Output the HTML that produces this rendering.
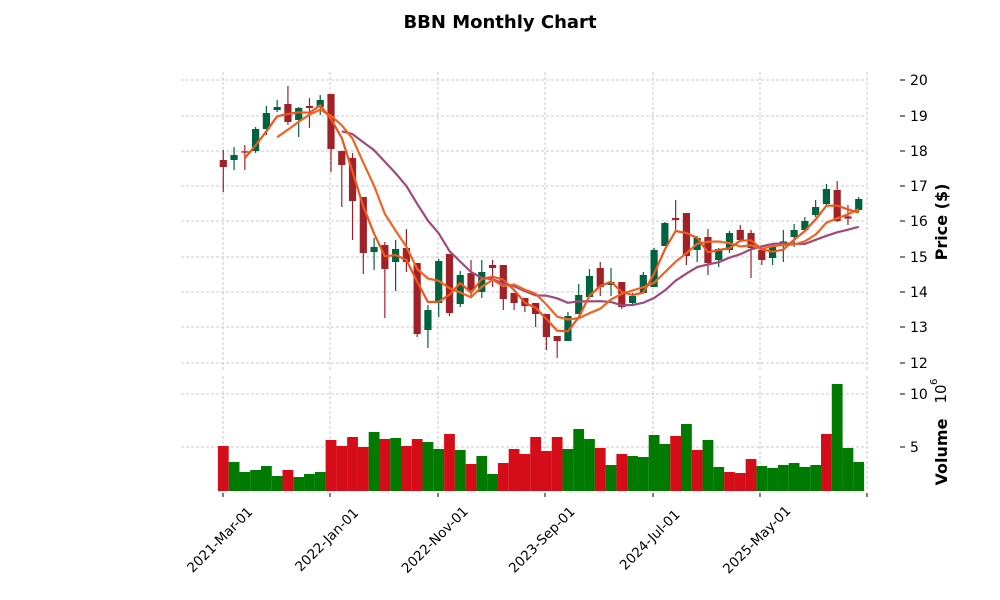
<!DOCTYPE html>
<html><head><meta charset="utf-8"><style>
html,body{margin:0;padding:0;background:#fff}
svg{display:block;font-family:"DejaVu Sans","Liberation Sans",sans-serif}
</style></head><body>
<svg id="s" width="1000" height="600" xmlns="http://www.w3.org/2000/svg">
<text x="500" y="28" text-anchor="middle" font-size="18" font-weight="bold">BBN Monthly Chart</text>
<g id="g"></g>
</svg>
<script>
var d=[[160,167,150,192],[160,155,147,170],[152,152,145,170],[151,129,127,153],[129,113,106,135],[110,107,100,112],[104,122,86,125],[120,108,107,137],[106,108,98,128],[107,100,95,115],
[94,149,94,172],[151,165,151,207],[158,201,153,240],[197,253,197,274],[252,247,238,270],[245,269,242,318],[262,249,240,291],[248,262,229,272],[263,334,263,337],[330,310,305,348],
[303,261,259,317],[254,313,254,316],[304,275,271,307],[273,290,260,297],[292,272,260,298],[265,268,260,287],[265,299,265,310],[293,303,293,310],[298,306,298,312],[303,314,303,327],
[314,337,314,350],[336,341,336,358],[341,316,312,341],[314,295,284,314],[297,276,269,297],[268,287,262,296],[285,282,268,296],[282,307,282,309],[303,296,293,305],[293,275,272,293],
[287,250,248,287],[246,223,222,246],[218,220,200,232],[213,256,213,265],[250,238,236,262],[237,263,229,275],[260,249,248,267],[250,233,231,253],[230,240,225,242],[233,248,230,278],
[250,260,248,265],[258,247,245,265],[243,242,230,262],[237,230,224,247],[230,221,217,232],[215,207,200,217],[204,189,184,206],[190,221,181,222],[217,218,205,225],[210,199,197,212]];
var v=[446,462,472,470,466,476,470,477,474,472,440,446,437,447,432,439,438,446,439,442,449,434,450,464,456,474,463,449,454,437,451,437,449,429,439,448,465,454,456,457,435,444,436,424,450,440,467,472,473,459,466,468,465,463,467,465,434,384,448,462];
var vc="rgggggrgggrrrrgrgrrggrgrggrrrrrrgggrgrggggrgrggrrrggggggrgg";
var h='',X=function(i){return 223.3+i*10.77};
function ln(x1,y1,x2,y2){h+='<line x1="'+x1+'" y1="'+y1+'" x2="'+x2+'" y2="'+y2+'" stroke="#bbb" stroke-width="0.8" stroke-dasharray="3,2"/>';}
var py=[80,116,151,186,221,257,292,327,363];
for(var k=0;k<9;k++){ln(181,py[k],867,py[k]);h+='<line x1="900" y1="'+py[k]+'" x2="905" y2="'+py[k]+'" stroke="#000"/><text x="910" y="'+(py[k]+5)+'" font-size="14">'+(20-k)+'</text>';}
var tx=[223,330,438,545,653,760,867];
for(k=0;k<7;k++){ln(tx[k],72,tx[k],370);ln(tx[k],376,tx[k],491);h+='<line x1="'+tx[k]+'" y1="493" x2="'+tx[k]+'" y2="497" stroke="#000"/>';}
ln(181,394,867,394);ln(181,447,867,447);
h+='<line x1="900" y1="394" x2="905" y2="394" stroke="#000"/><text x="910" y="399" font-size="14">10</text>';
h+='<line x1="900" y1="447" x2="905" y2="447" stroke="#000"/><text x="910" y="452" font-size="14">5</text>';
var lab=["2021-Mar-01","2022-Jan-01","2022-Nov-01","2023-Sep-01","2024-Jul-01","2025-May-01"];
for(k=0;k<6;k++)h+='<text transform="translate('+(tx[k])+',543) rotate(-45)" text-anchor="middle" font-size="13.5">'+lab[k]+'</text>';
h+='<text transform="translate(947,222) rotate(-90)" text-anchor="middle" font-size="16" font-weight="bold">Price ($)</text>';
h+='<text transform="translate(947,452) rotate(-90)" text-anchor="middle" font-size="16" font-weight="bold">Volume</text>';
h+='<text transform="translate(946,394) rotate(-90)" text-anchor="middle" font-size="15">10</text><text transform="translate(937,385) rotate(-90)" font-size="10">6</text>';
for(var i=0;i<60;i++){h+='<rect x="'+(X(i)-5.4)+'" y="'+v[i]+'" width="10.8" height="'+(491-v[i])+'" fill="'+(vc[i]=='r'?'#d50d18':'#007a00')+'"/>';}
for(i=0;i<60;i++){var c=d[i],up=c[1]<c[0]||(c[1]==c[0]&&i==52),col=up?'#006340':'#a02128';var x=X(i);
h+='<line x1="'+x+'" y1="'+c[2]+'" x2="'+x+'" y2="'+c[3]+'" stroke="'+col+'" stroke-width="1.2"/>';
var t=Math.min(c[0],c[1]),b=Math.max(c[0],c[1]);if(b-t<1.2){t-=0.6;b+=0.6;}
h+='<rect x="'+(x-3.6)+'" y="'+t+'" width="7.2" height="'+(b-t)+'" fill="'+col+'"/>';}
function ma(n,col){var p=[];for(var i=n-1;i<60;i++){var s=0;for(var j=i-n+1;j<=i;j++)s+=d[j][1];p.push(X(i).toFixed(1)+','+(s/n).toFixed(1));}
h+='<polyline points="'+p.join(' ')+'" fill="none" stroke="'+col+'" stroke-width="2.2" stroke-linejoin="round"/>';}
ma(12,'#9e4a7c');ma(6,'#f26322');ma(3,'#f0561c');
document.getElementById('g').innerHTML=h;
</script>
</body></html>
